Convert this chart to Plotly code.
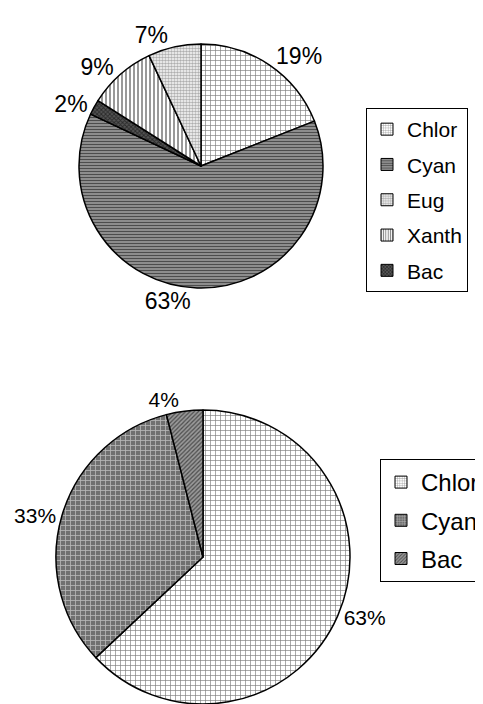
import plotly.graph_objects as go

# ---- data ----
top_labels = ["Chlor", "Cyan", "Eug", "Xanth", "Bac"]          # legend order
top_values = [19, 63, 7, 9, 2]                                   # percent
top_slice_order = ["Chlor", "Cyan", "Bac", "Xanth", "Eug"]       # clockwise from 12 o'clock

bot_labels = ["Chlor", "Cyan", "Bac"]
bot_values = [63, 33, 4]

FONT = "Liberation Sans, Arial, sans-serif"
W, H = 475, 696     # page body has an 8px margin
OFF = 8


def fx(px):
    return (px - OFF) / W


def fy(py):
    return 1 - (py - OFF) / H


top_styles = {
    "Chlor": dict(bg="white", fg="black", shape="+", size=5, solidity=0.25),
    "Cyan": dict(bg="#9a9a9a", fg="black", shape="-", size=3, solidity=0.45),
    "Eug": dict(bg="white", fg="#606060", shape=".", size=3, solidity=0.6),
    "Xanth": dict(bg="white", fg="black", shape="|", size=4, solidity=0.4),
    "Bac": dict(bg="#555555", fg="black", shape="x", size=3, solidity=0.5),
}
bot_styles = {
    "Chlor": dict(bg="white", fg="black", shape="+", size=5, solidity=0.25),
    "Cyan": dict(bg="#707070", fg="white", shape="+", size=5, solidity=0.3),
    "Bac": dict(bg="#9a9a9a", fg="black", shape="/", size=3, solidity=0.4),
}

fig = go.Figure()

val_map = dict(zip(top_labels, top_values))
t_vals = [val_map[l] for l in top_slice_order]
fig.add_trace(go.Pie(
    labels=top_slice_order, values=t_vals, sort=False, direction="clockwise", rotation=0,
    domain=dict(x=[fx(79), fx(323)], y=[fy(288), fy(44)]),
    marker=dict(
        colors=[top_styles[l]["bg"] for l in top_slice_order],
        line=dict(color="black", width=1.5),
        pattern=dict(
            shape=[top_styles[l]["shape"] for l in top_slice_order],
            fgcolor=[top_styles[l]["fg"] for l in top_slice_order],
            size=[top_styles[l]["size"] for l in top_slice_order],
            solidity=[top_styles[l]["solidity"] for l in top_slice_order],
            fillmode="overlay",
        ),
    ),
    texttemplate="%{value}%", textposition="outside",
    textfont=dict(family=FONT, size=23, color="black"),
    showlegend=False, hoverinfo="label+percent",
))

fig.add_trace(go.Pie(
    labels=bot_labels, values=bot_values, sort=False, direction="clockwise", rotation=0,
    domain=dict(x=[fx(55), fx(351)], y=[0, fy(410)]),
    marker=dict(
        colors=[bot_styles[l]["bg"] for l in bot_labels],
        line=dict(color="black", width=1.5),
        pattern=dict(
            shape=[bot_styles[l]["shape"] for l in bot_labels],
            fgcolor=[bot_styles[l]["fg"] for l in bot_labels],
            size=[bot_styles[l]["size"] for l in bot_labels],
            solidity=[bot_styles[l]["solidity"] for l in bot_labels],
            fillmode="overlay",
        ),
    ),
    texttemplate="%{value}%", textposition="outside",
    textfont=dict(family=FONT, size=21, color="black"),
    showlegend=False, hoverinfo="label+percent",
))

# legend entries (legend order differs from slice order)
for i, l in enumerate(top_labels):
    s = top_styles[l]
    fig.add_trace(go.Bar(
        x=[None], y=[None], name=l, legend="legend", legendgroup="t%d" % i,
        marker=dict(color=s["bg"], line=dict(color="black", width=1),
                    pattern=dict(shape=s["shape"], fgcolor=s["fg"], size=3,
                                 solidity=s["solidity"], fillmode="overlay")),
        showlegend=True, hoverinfo="skip",
    ))
for i, l in enumerate(bot_labels):
    s = bot_styles[l]
    fig.add_trace(go.Bar(
        x=[None], y=[None], name=l, legend="legend2", legendgroup="b%d" % i,
        marker=dict(color=s["bg"], line=dict(color="black", width=1),
                    pattern=dict(shape=s["shape"], fgcolor=s["fg"], size=3,
                                 solidity=s["solidity"], fillmode="overlay")),
        showlegend=True, hoverinfo="skip",
    ))

fig.update_layout(
    width=W, height=H,
    margin=dict(l=0, r=0, t=0, b=0, autoexpand=False),
    paper_bgcolor="white", plot_bgcolor="white",
    font=dict(family=FONT, color="black"),
    xaxis=dict(visible=False), yaxis=dict(visible=False),
    legend=dict(x=fx(366), y=fy(108), xanchor="left", yanchor="top",
                bordercolor="black", borderwidth=1, bgcolor="white",
                font=dict(size=21, family=FONT), tracegroupgap=5, itemclick=False),
    legend2=dict(x=fx(380), y=fy(459), xanchor="left", yanchor="top",
                 bordercolor="black", borderwidth=1, bgcolor="white",
                 font=dict(size=24, family=FONT), tracegroupgap=4, itemclick=False),
)

fig.write_html("out.html")
